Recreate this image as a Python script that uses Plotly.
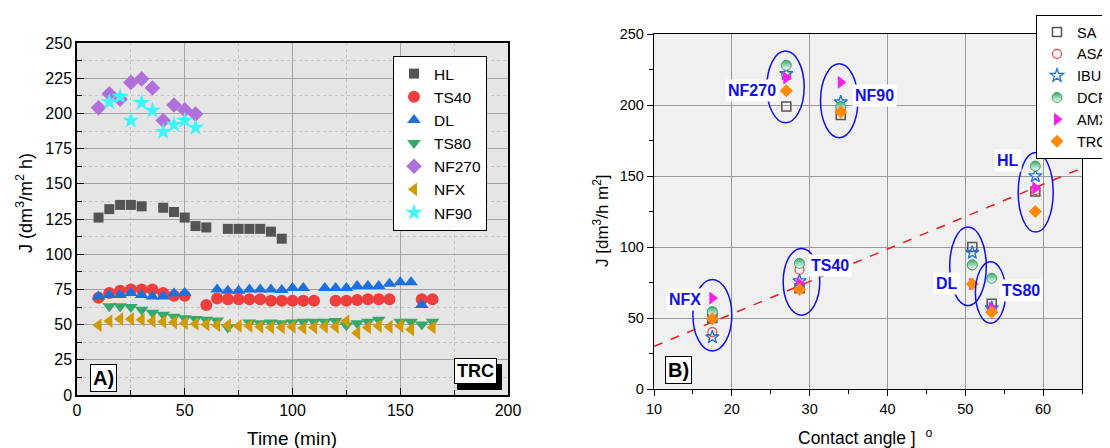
import plotly.graph_objects as go

# ---------------- Panel A data: flux vs time ----------------
t_HL = [10, 15, 20, 25, 30, 40, 45, 50, 55, 60, 70, 75, 80, 85, 90, 95]
J_HL = [126, 132, 135, 135, 134, 133, 130, 126, 120, 119, 118, 118, 118, 118, 116, 111]

t_TS40 = [10, 15, 20, 25, 30, 35, 40, 45, 50, 60, 65, 70, 75, 80, 85, 90, 95, 100, 105, 110,
          120, 125, 130, 135, 140, 145, 160, 165]
J_TS40 = [69, 72.5, 74, 75, 75, 75, 72.5, 70.5, 70.5, 64, 68.5, 68, 68, 68, 68, 67, 67, 67, 67, 67,
          67, 67, 67.5, 68, 68, 68, 68, 68]

t_DL = [10, 15, 20, 25, 30, 35, 40, 45, 50, 65, 70, 75, 80, 85, 90, 95, 100, 105,
        115, 120, 125, 130, 135, 140, 145, 150, 155, 160]
J_DL = [70, 71, 71, 72.5, 71, 70, 70, 72, 72.5, 75, 74, 74, 75, 75, 75, 74.5, 76, 76,
        76, 76, 76, 77.5, 77.5, 77.5, 79, 80, 80, 64]

t_TS80 = [15, 20, 25, 30, 35, 40, 45, 50, 55, 60, 65, 70,
          80, 85, 90, 95, 100, 105, 110, 115, 120, 125, 130, 135, 140,
          150, 155, 160, 165]
J_TS80 = [63, 63, 62.5, 60.5, 58.5, 57, 55.5, 54.5, 54, 53.5, 53, 48,
          51.5, 51, 51.5, 51, 51.5, 52, 52, 52, 52.5, 49.5, 51, 52, 53.5,
          52, 52, 50, 52]

t_NF270 = [10, 15, 20, 25, 30, 35, 40, 45, 50, 55]
J_NF270 = [204, 214, 210, 222, 224.5, 218, 195, 206, 202.5, 199.5]

t_NFX = [10, 15, 20, 25, 30, 35, 40, 45, 50, 55, 60, 65, 70, 75, 80, 85, 90, 95, 100, 105,
         110, 115, 120, 125, 130, 135, 140, 145, 150, 155, 165]
J_NFX = [49.5, 52.5, 54, 54, 53.5, 52.5, 52, 51.5, 51, 50.5, 50, 49.5, 49.5, 49, 49, 48.5, 48, 48, 48.5, 47.5,
         48, 48.5, 48.5, 52.5, 44, 48, 49, 48.5, 49, 46.5, 48]

t_NF90 = [15, 20, 25, 30, 35, 40, 45, 50, 55]
J_NF90 = [208, 212, 195, 207.5, 202, 187, 192, 195, 190]

# ---------------- Panel B data: flux vs contact angle ----------------
membranes = ["NF270", "NF90", "HL", "NFX", "TS40", "DL", "TS80"]
contact_angle = [27.0, 34.0, 59.0, 17.5, 28.7, 50.9, 53.4]
J_SA = [199, 193, 139, 50, 71, 100, 60]
J_ASA = [221, 197, 140, 40, 84, 87, 55]
J_IBU = [222, 202, 150, 36.5, 76, 96, 57]
J_DCF = [228, 199, 157, 54.5, 88.5, 87.5, 78]
J_AMX = [219, 216, 141.5, 64, 74.5, 74, 57]
J_TRC = [210, 195, 125, 49.5, 70, 74, 54]

trend_x = [10, 65]
trend_y = [30, 155.6]

# ellipse bounds (x0, x1, y0, y1) and label positions for each membrane group
ellipses = {
    "NF270": (24.5, 29.3, 187.5, 238),
    "NF90": (31.4, 36.2, 177, 229),
    "HL": (56.8, 61.3, 110.5, 166.5),
    "NFX": (15.0, 20.0, 26.8, 77.2),
    "TS40": (26.6, 31.3, 52, 99),
    "DL": (48.0, 52.7, 58.7, 114),
    "TS80": (51.3, 55.2, 46.3, 89.6),
}
label_pos = {
    "NF270": (22.6, 210), "NF90": (38.3, 207), "HL": (55.5, 161), "NFX": (14.0, 63),
    "TS40": (32.6, 87), "DL": (47.6, 74.5), "TS80": (57.2, 69.5),
}

FONT = "Liberation Sans, Arial, sans-serif"
OX, OY = 8, 8            # page body margin offset
W, H = 1102, 440


def px(x):
    return (x - OX) / W


def py(y):
    return 1 - (y - OY) / H


fig = go.Figure()

left_series = [
    ("HL", t_HL, J_HL, "square", "#545454", 10),
    ("TS40", t_TS40, J_TS40, "circle", "#ef3e3e", 12),
    ("DL", t_DL, J_DL, "triangle-up", "#1d6fdc", 12),
    ("TS80", t_TS80, J_TS80, "triangle-down", "#36a86a", 12),
    ("NF270", t_NF270, J_NF270, "diamond", "#b070dc", 12),
    ("NFX", t_NFX, J_NFX, "triangle-left", "#d39a00", 12),
    ("NF90", t_NF90, J_NF90, "star", "#3ff5fa", 13),
]
for name, xs, ys, sym, col, sz in left_series:
    fig.add_trace(go.Scatter(
        x=xs, y=ys, mode="markers", name=name, xaxis="x", yaxis="y", legend="legend",
        marker=dict(symbol=sym, color=col, size=sz, line=dict(width=0)),
    ))

# trend line panel B
fig.add_trace(go.Scatter(
    x=trend_x, y=trend_y, mode="lines", xaxis="x2", yaxis="y2", showlegend=False,
    line=dict(color="#ee1c1c", width=1.5, dash="dash"), hoverinfo="skip",
))

right_series = [
    ("SA", J_SA, dict(symbol="square-open", color="#555555", size=9, line=dict(width=1.5, color="#555555"))),
    ("ASA", J_ASA, dict(symbol="circle-open", color="#ef3e3e", size=9, line=dict(width=1.2, color="#ef3e3e"))),
    ("IBU", J_IBU, dict(symbol="star-open", color="#1d6fdc", size=10, line=dict(width=1.3, color="#1d6fdc"))),
    ("DCF", J_DCF, dict(symbol="circle", color="#36a86a", size=10,
                        gradient=dict(type="vertical", color="white"),
                        line=dict(width=1, color="#36a86a"))),
    ("AMX", J_AMX, dict(symbol="triangle-right", color="#ff1ee6", size=10, line=dict(width=1, color="#ff1ee6"))),
    ("TRC", J_TRC, dict(symbol="diamond", color="#ff8a0a", size=10, line=dict(width=0))),
]
for name, ys, mk in right_series:
    fig.add_trace(go.Scatter(
        x=contact_angle, y=ys, mode="markers", name=name, xaxis="x2", yaxis="y2",
        legend="legend2", marker=mk,
    ))

shapes = []
for m, (x0, x1, y0, y1) in ellipses.items():
    shapes.append(dict(type="circle", xref="x2", yref="y2", x0=x0, x1=x1, y0=y0, y1=y1,
                       line=dict(color="#1010ee", width=1.5), layer="above"))
# second plot background (different grey)
shapes.append(dict(type="rect", xref="x2 domain", yref="y2 domain", x0=0, x1=1, y0=0, y1=1,
                   fillcolor="#f0f0f0", line=dict(width=0), layer="below"))
# TRC shadow box
shapes.append(dict(type="rect", xref="paper", yref="paper", x0=px(457), x1=px(502), y0=py(390), y1=py(364),
                   fillcolor="black", line=dict(width=0), layer="above"))

annotations = []
for m, (lx, ly) in label_pos.items():
    annotations.append(dict(x=lx, y=ly, xref="x2", yref="y2", text="<b>%s</b>" % m,
                            xanchor="center", yanchor="middle",
                            showarrow=False, font=dict(family=FONT, size=16, color="#1010ee"),
                            bgcolor="white", borderpad=2))

# Panel labels
annotations.append(dict(x=px(90), y=py(392), xref="paper", yref="paper", xanchor="left", yanchor="bottom",
                        text="<b>A)</b>", showarrow=False, font=dict(family=FONT, size=20, color="black"),
                        bgcolor="white", bordercolor="black", borderwidth=1, borderpad=2))
annotations.append(dict(x=px(665), y=py(384), xref="paper", yref="paper", xanchor="left", yanchor="bottom",
                        text="<b>B)</b>", showarrow=False, font=dict(family=FONT, size=20, color="black"),
                        bgcolor="white", bordercolor="black", borderwidth=1, borderpad=2))
annotations.append(dict(x=px(497), y=py(384), xref="paper", yref="paper", xanchor="right", yanchor="bottom",
                        text="<b>TRC</b>", showarrow=False, font=dict(family=FONT, size=18, color="black"),
                        bgcolor="white", bordercolor="black", borderwidth=1, borderpad=2))

# Axis titles
annotations.append(dict(x=px(25), y=py(203), xref="paper", yref="paper", textangle=-90,
                        xanchor="center", yanchor="middle",
                        text="J (dm<sup>3</sup>/m<sup>2</sup> h)", showarrow=False,
                        font=dict(family=FONT, size=18, color="black")))
annotations.append(dict(x=px(292), y=py(438), xref="paper", yref="paper",
                        xanchor="center", yanchor="middle",
                        text="Time (min)", showarrow=False, font=dict(family=FONT, size=19, color="black")))
annotations.append(dict(x=px(601), y=py(221), xref="paper", yref="paper", textangle=-90,
                        xanchor="center", yanchor="middle",
                        text="J [dm<sup>3</sup>/h m<sup>2</sup>]", showarrow=False,
                        font=dict(family=FONT, size=17, color="black")))
annotations.append(dict(x=px(865), y=py(437), xref="paper", yref="paper",
                        xanchor="center", yanchor="middle",
                        text="Contact angle ]  <sup>o</sup>", showarrow=False,
                        font=dict(family=FONT, size=17.5, color="black")))

tickfont = dict(family=FONT, size=16, color="black")
tickfont2 = dict(family=FONT, size=14.5, color="black")

fig.update_layout(
    width=W, height=H,
    margin=dict(l=0, r=0, t=0, b=0, autoexpand=False),
    paper_bgcolor="white",
    font=dict(family=FONT, color="black"),
    showlegend=True,
    xaxis=dict(domain=[px(77), px(508)], range=[0, 200], dtick=50, tick0=0,
               showline=True, linecolor="black", linewidth=1.5, mirror=True,
               ticks="inside", ticklen=7, tickcolor="black", tickfont=tickfont,
               showgrid=True, gridcolor="#a3a3a3", gridwidth=1.3, zeroline=False,
               minor=dict(dtick=25, ticks="inside", ticklen=5, tickcolor="black",
                          showgrid=True, gridcolor="#c4c4c4", griddash="dot", gridwidth=1),
               anchor="y"),
    yaxis=dict(domain=[py(395), py(43)], range=[0, 250], dtick=25, tick0=0,
               showline=True, linecolor="black", linewidth=1.5, mirror=True,
               ticks="inside", ticklen=7, tickcolor="black", tickfont=tickfont,
               showgrid=True, gridcolor="#a3a3a3", gridwidth=1.3, zeroline=False,
               minor=dict(dtick=12.5, ticks="inside", ticklen=5, tickcolor="black",
                          showgrid=True, gridcolor="#c4c4c4", griddash="dot", gridwidth=1),
               anchor="x"),
    xaxis2=dict(domain=[px(654), px(1082)], range=[10, 65], dtick=10, tick0=10,
                showline=True, linecolor="black", linewidth=1.3, mirror=True,
                ticks="outside", ticklen=6, tickcolor="black", tickfont=tickfont2,
                showgrid=True, gridcolor="#9a9a9a", gridwidth=1, zeroline=False,
                minor=dict(dtick=5, ticks="outside", ticklen=4, tickcolor="black", showgrid=False),
                anchor="y2"),
    yaxis2=dict(domain=[py(389), py(34)], range=[0, 250], dtick=50, tick0=0,
                showline=True, linecolor="black", linewidth=1.3, mirror=True,
                ticks="outside", ticklen=6, tickcolor="black", tickfont=tickfont2,
                showgrid=True, gridcolor="#9a9a9a", gridwidth=1, zeroline=False,
                minor=dict(dtick=25, ticks="outside", ticklen=4, tickcolor="black", showgrid=False),
                anchor="x2"),
    plot_bgcolor="#e5e5e5",
    legend=dict(x=px(393), y=py(56), xanchor="left", yanchor="top", xref="paper", yref="paper",
                bgcolor="white", bordercolor="black", borderwidth=1,
                font=dict(family=FONT, size=15.5, color="black"), tracegroupgap=0,
                itemsizing="trace"),
    legend2=dict(x=px(1036), y=py(15), xanchor="left", yanchor="top", xref="paper", yref="paper",
                 bgcolor="white", bordercolor="black", borderwidth=1,
                 font=dict(family=FONT, size=14.5, color="black"), tracegroupgap=0),
    shapes=shapes,
    annotations=annotations,
)

fig.write_html("out.html")
